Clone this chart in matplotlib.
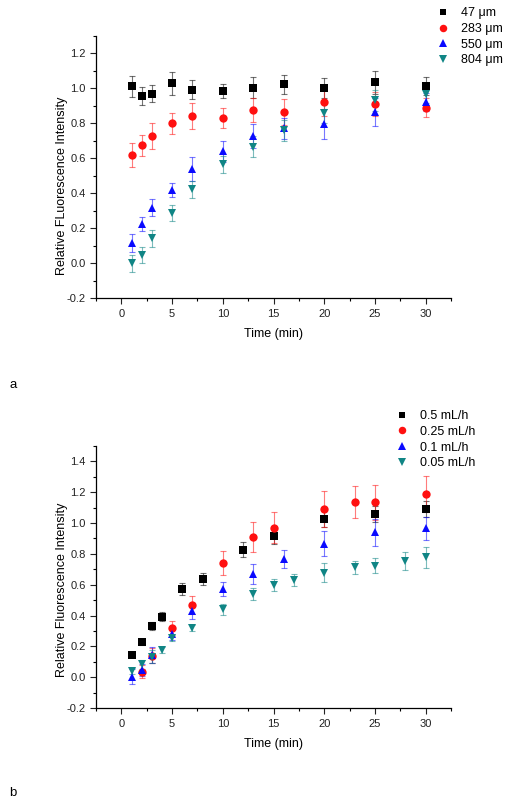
import matplotlib
matplotlib.use("Agg")
import matplotlib.pyplot as plt
from matplotlib.ticker import MultipleLocator

plt.rcParams['font.family'] = ['Liberation Sans', 'DejaVu Sans']

# ---------------- Panel a data ----------------
a_labels = ["47 μm", "283 μm", "550 μm", "804 μm"]
a_x = [1, 2, 3, 5, 7, 10, 13, 16, 20, 25, 30]
a_y47 = [1.013, 0.958, 0.971, 1.03, 0.992, 0.985, 1.003, 1.023, 1.003, 1.034, 1.013]
a_e47 = [0.06, 0.05, 0.05, 0.065, 0.055, 0.04, 0.06, 0.055, 0.055, 0.067, 0.053]
a_y283 = [0.619, 0.676, 0.727, 0.80, 0.842, 0.832, 0.876, 0.863, 0.922, 0.91, 0.889]
a_e283 = [0.067, 0.06, 0.073, 0.06, 0.076, 0.057, 0.067, 0.074, 0.08, 0.07, 0.055]
a_y550 = [0.114, 0.223, 0.318, 0.419, 0.539, 0.642, 0.729, 0.773, 0.798, 0.863, 0.923]
a_e550 = [0.052, 0.04, 0.05, 0.042, 0.067, 0.06, 0.067, 0.06, 0.085, 0.08, 0.05]
a_y804 = [0.0, 0.047, 0.143, 0.289, 0.423, 0.566, 0.666, 0.762, 0.862, 0.933, 0.966]
a_e804 = [0.05, 0.047, 0.05, 0.045, 0.05, 0.047, 0.06, 0.06, 0.06, 0.06, 0.05]

# ---------------- Panel b data ----------------
b_labels = ["0.5 mL/h", "0.25 mL/h", "0.1 mL/h", "0.05 mL/h"]
b_x05 = [1, 2, 3, 4, 6, 8, 12, 15, 20, 25, 30]
b_y05 = [0.145, 0.227, 0.333, 0.394, 0.571, 0.638, 0.827, 0.917, 1.026, 1.06, 1.09]
b_e05 = [0.015, 0.015, 0.025, 0.03, 0.04, 0.04, 0.05, 0.05, 0.05, 0.05, 0.05]
b_x025 = [2, 3, 5, 7, 10, 13, 15, 20, 23, 25, 30]
b_y025 = [0.037, 0.14, 0.318, 0.469, 0.742, 0.909, 0.97, 1.093, 1.134, 1.134, 1.188]
b_e025 = [0.04, 0.05, 0.05, 0.06, 0.08, 0.095, 0.1, 0.117, 0.104, 0.113, 0.115]
b_x01 = [1, 2, 3, 5, 7, 10, 13, 16, 20, 25, 30]
b_y01 = [0.004, 0.047, 0.145, 0.281, 0.43, 0.571, 0.671, 0.766, 0.866, 0.939, 0.967]
b_e01 = [0.05, 0.04, 0.05, 0.04, 0.05, 0.045, 0.065, 0.06, 0.08, 0.085, 0.075]
b_x005 = [1, 2, 3, 4, 5, 7, 10, 13, 15, 17, 20, 23, 25, 28, 30]
b_y005 = [0.041, 0.084, 0.134, 0.177, 0.253, 0.318, 0.441, 0.539, 0.599, 0.632, 0.679, 0.712, 0.723, 0.755, 0.777]
b_e005 = [0.02, 0.03, 0.04, 0.02, 0.02, 0.02, 0.035, 0.04, 0.04, 0.04, 0.06, 0.04, 0.05, 0.06, 0.07]

colors = ["#000000", "#ff1010", "#0a0aff", "#108585"]
markers = ["s", "o", "^", "v"]
msizes = [5.5, 6.0, 6.2, 6.2]

fig = plt.figure(figsize=(5.12, 8.01), dpi=100)
ax1 = fig.add_axes([0.1875, 0.6276, 0.6934, 0.3275])
ax2 = fig.add_axes([0.1875, 0.116, 0.6934, 0.3272])


def draw(ax, series, labels, ylim, ylabel, ylab_y, leg_anchor):
    handles = []
    for (x, y, e), lab, c, m, ms in zip(series, labels, colors, markers, msizes):
        ax.errorbar(x, y, yerr=e, fmt='none', ecolor=c, alpha=0.55,
                    elinewidth=0.8, capsize=2.5, capthick=0.8, zorder=2)
        h, = ax.plot(x, y, linestyle='none', marker=m, color=c,
                     markersize=ms, markeredgewidth=0, zorder=3, label=lab)
        handles.append(h)
    ax.set_xlim(-2.5, 32.5)
    ax.set_ylim(*ylim)
    ax.xaxis.set_major_locator(MultipleLocator(5))
    ax.xaxis.set_minor_locator(MultipleLocator(2.5))
    ax.yaxis.set_major_locator(MultipleLocator(0.2))
    ax.yaxis.set_minor_locator(MultipleLocator(0.1))
    ax.yaxis.set_major_formatter(plt.FuncFormatter(lambda v, p: f"{v:.1f}"))
    for s in ['top', 'right']:
        ax.spines[s].set_visible(False)
    for s in ['left', 'bottom']:
        ax.spines[s].set_linewidth(0.9)
    ax.tick_params(which='major', direction='out', length=4, width=0.8,
                   labelsize=8, colors='#222222')
    ax.tick_params(which='minor', direction='out', length=2.5, width=0.8)
    ax.set_xlabel("Time (min)", fontsize=9, labelpad=7)
    ax.set_ylabel(ylabel, fontsize=9)
    ax.yaxis.set_label_coords(-0.078, ylab_y)
    fig.legend(handles=handles, loc='upper left', bbox_to_anchor=leg_anchor,
               bbox_transform=fig.transFigure, frameon=False, fontsize=9,
               handlelength=1.0, handletextpad=0.9, labelspacing=0.3,
               borderpad=0, borderaxespad=0, numpoints=1, markerscale=0.9)


draw(ax1, [(a_x, a_y47, a_e47), (a_x, a_y283, a_e283), (a_x, a_y550, a_e550), (a_x, a_y804, a_e804)],
     a_labels, (-0.2, 1.3), "Relative FLuorescence Intensity", 0.43, (0.8535, 0.991))
draw(ax2, [(b_x05, b_y05, b_e05), (b_x025, b_y025, b_e025), (b_x01, b_y01, b_e01), (b_x005, b_y005, b_e005)],
     b_labels, (-0.2, 1.5), "Relative Fluorescence Intensity", 0.45, (0.773, 0.488))

fig.text(0.018, 0.519, "a", fontsize=9.5, va='center')
fig.text(0.018, 0.0095, "b", fontsize=9.5, va='center')

fig.savefig("out.png", dpi=100)
